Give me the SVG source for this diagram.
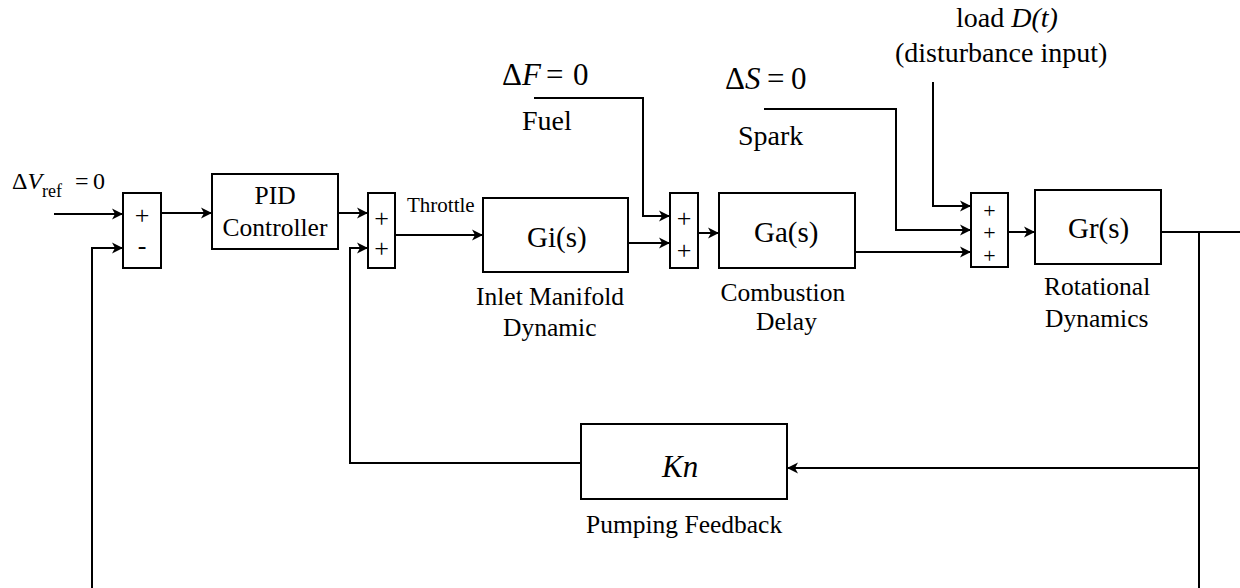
<svg xmlns="http://www.w3.org/2000/svg" width="1240" height="588" viewBox="0 0 1240 588" font-family="'Liberation Serif', 'DejaVu Serif', serif">
<style>
  .box{fill:#fff;stroke:#000;stroke-width:2}
  .ln{fill:none;stroke:#000;stroke-width:2}
  .arr{marker-end:url(#ah)}
  text{font-family:'Liberation Serif','Times New Roman',serif;fill:#000}
  .bdcap{font-size:25.5px}
  .bdtf{font-size:29px}
  .bdsg{font-size:26px}
  .bdsg3{font-size:22px}
  .io{font-size:28px}
  .eq{font-size:31px}
  .it{font-style:italic}
</style>
<defs>
  <marker id="ah" markerUnits="userSpaceOnUse" markerWidth="12" markerHeight="12" refX="11" refY="6" orient="auto" overflow="visible">
    <path d="M0,0.5 L11,6 L0,11.5 L3,6 Z" fill="#000"/>
  </marker>
</defs>
<rect width="1240" height="588" fill="#fff"/>

<g id="connectors">
  <path class="ln arr" d="M54,214 H123"/>
  <path class="ln arr" d="M161,213 H212"/>
  <path class="ln arr" d="M338,213 H368"/>
  <path class="ln arr" d="M395,235 H483"/>
  <path class="ln arr" d="M628,243 H670"/>
  <path class="ln arr" d="M534,98 H643 V216 H670"/>
  <path class="ln arr" d="M698,233 H719"/>
  <path class="ln arr" d="M855,252 H971"/>
  <path class="ln arr" d="M764,109 H896 V230 H971"/>
  <path class="ln arr" d="M933,82 V206 H971"/>
  <path class="ln arr" d="M1008,232 H1035"/>
  <path class="ln" d="M1161,232 H1240"/>
  <path class="ln" d="M1199,232 V588"/>
  <path class="ln arr" d="M1199,468 H787"/>
  <path class="ln arr" d="M581,463 H350 V248 H368"/>
  <path class="ln arr" d="M92,588 V248 H123"/>
</g>

<g id="input-vref">
  <text x="12" y="189" font-size="24">Δ<tspan class="it">V</tspan><tspan font-size="18" dy="8">ref</tspan><tspan x="75" dy="-8">=</tspan><tspan x="93">0</tspan></text>
</g>

<g id="sum1">
  <rect class="box" x="123" y="193" width="38" height="75"/>
  <text class="bdsg" x="134.7" y="224">+</text>
  <text class="bdsg" x="137.7" y="254">-</text>
</g>

<g id="pid">
  <rect class="box" x="212" y="174" width="126" height="75"/>
  <text class="bdcap" x="254.5" y="204">PID</text>
  <text class="bdcap" x="222.6" y="236">Controller</text>
</g>

<g id="sum2">
  <rect class="box" x="368" y="193" width="27" height="75"/>
  <text class="bdsg" x="374.2" y="227">+</text>
  <text class="bdsg" x="374.2" y="257">+</text>
</g>

<g id="throttle-label">
  <text x="407" y="212" font-size="21">Throttle</text>
</g>

<g id="gi">
  <rect class="box" x="483" y="198" width="145" height="74"/>
  <text class="bdtf" x="527" y="247">Gi(s)</text>
  <text class="bdcap" x="476" y="305">Inlet Manifold</text>
  <text class="bdcap" x="503" y="336">Dynamic</text>
</g>

<g id="fuel">
  <text class="eq" x="502" y="85">Δ<tspan class="it" x="522">F</tspan><tspan x="546">=</tspan><tspan x="573">0</tspan></text>
  <text class="io" x="522" y="130">Fuel</text>
</g>

<g id="sum3">
  <rect class="box" x="670" y="193" width="28" height="75"/>
  <text class="bdsg" x="676.7" y="227">+</text>
  <text class="bdsg" x="676.7" y="259">+</text>
</g>

<g id="ga">
  <rect class="box" x="719" y="193" width="136" height="75"/>
  <text class="bdtf" x="754" y="242">Ga(s)</text>
  <text class="bdcap" x="720.5" y="301">Combustion</text>
  <text class="bdcap" x="756" y="330">Delay</text>
</g>

<g id="spark">
  <text class="eq" x="725" y="89">Δ<tspan class="it" x="745">S</tspan><tspan x="767">=</tspan><tspan x="791">0</tspan></text>
  <text class="io" x="738" y="145">Spark</text>
</g>

<g id="load">
  <text x="956" y="27" font-size="28">load <tspan class="it">D(t)</tspan></text>
  <text x="895" y="62" font-size="28">(disturbance input)</text>
</g>

<g id="sum4">
  <rect class="box" x="971" y="193" width="37" height="74"/>
  <text class="bdsg3" x="983.3" y="218">+</text>
  <text class="bdsg3" x="983.3" y="240">+</text>
  <text class="bdsg3" x="983.3" y="263">+</text>
</g>

<g id="gr">
  <rect class="box" x="1035" y="190" width="126" height="74"/>
  <text class="bdtf" x="1068" y="238">Gr(s)</text>
  <text class="bdcap" x="1044" y="295">Rotational</text>
  <text class="bdcap" x="1045" y="327">Dynamics</text>
</g>

<g id="kn">
  <rect class="box" x="581" y="424" width="206" height="75"/>
  <text class="it" x="662" y="477" font-size="31">Kn</text>
  <text class="bdcap" x="586" y="533">Pumping Feedback</text>
</g>
</svg>
